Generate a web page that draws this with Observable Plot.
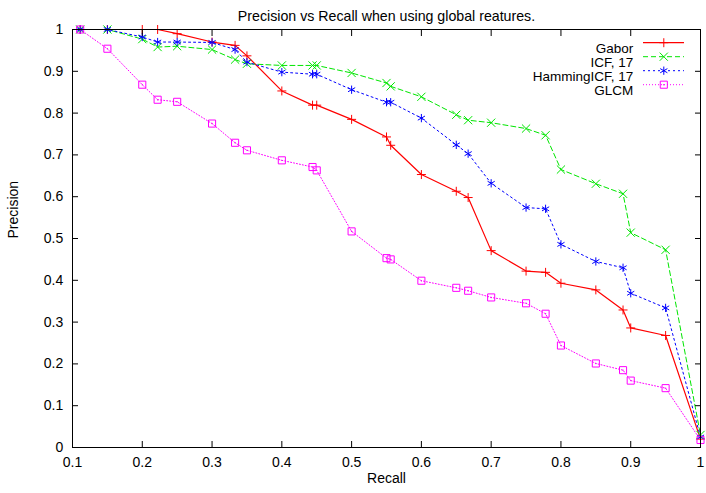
<!DOCTYPE html>
<html>
<head>
<meta charset="utf-8">
<script src="https://cdn.jsdelivr.net/npm/d3@7"></script>
<script src="https://cdn.jsdelivr.net/npm/@observablehq/plot@0.6"></script>
<style>
  html, body { margin: 0; padding: 0; background: #fff; overflow: hidden; }
  #chart svg { display: block; }
</style>
</head>
<body>
<div id="chart"></div>
<script>
// ---- data ----
const recall = [0.111, 0.15, 0.2, 0.222, 0.25, 0.3, 0.333, 0.35, 0.4, 0.444, 0.45, 0.5, 0.55, 0.556, 0.6, 0.65, 0.667, 0.7, 0.75, 0.778, 0.8, 0.85, 0.889, 0.9, 0.95, 1];
const gabor   = [1, 1, 1, 1, 0.99, 0.970, 0.962, 0.937, 0.853, 0.819, 0.819, 0.785, 0.743, 0.723, 0.653, 0.613, 0.598, 0.471, 0.422, 0.419, 0.393, 0.377, 0.329, 0.286, 0.268, 0.02];
const icf     = [1, 1, 0.977, 0.958, 0.960, 0.952, 0.928, 0.918, 0.914, 0.914, 0.914, 0.896, 0.872, 0.864, 0.839, 0.796, 0.783, 0.777, 0.763, 0.747, 0.665, 0.631, 0.607, 0.514, 0.473, 0.03];
const hamming = [1, 1, 0.982, 0.970, 0.970, 0.969, 0.952, 0.922, 0.898, 0.893, 0.893, 0.856, 0.826, 0.826, 0.788, 0.724, 0.703, 0.632, 0.574, 0.571, 0.486, 0.445, 0.430, 0.369, 0.334, 0.025];
const glcm    = [1, 0.954, 0.868, 0.832, 0.827, 0.775, 0.729, 0.711, 0.687, 0.671, 0.663, 0.517, 0.453, 0.450, 0.399, 0.382, 0.375, 0.359, 0.345, 0.320, 0.244, 0.201, 0.185, 0.160, 0.142, 0.018];

const seriesNames = ["Gabor", "ICF, 17", "HammingICF, 17", "GLCM"];
const xTicks = [0.1, 0.2, 0.3, 0.4, 0.5, 0.6, 0.7, 0.8, 0.9, 1];
const xTickLabels = ["0.1", "0.2", "0.3", "0.4", "0.5", "0.6", "0.7", "0.8", "0.9", "1"];
const yTicks = [0, 0.1, 0.2, 0.3, 0.4, 0.5, 0.6, 0.7, 0.8, 0.9, 1];
const yTickLabels = ["0", "0.1", "0.2", "0.3", "0.4", "0.5", "0.6", "0.7", "0.8", "0.9", "1"];
const title = "Precision vs Recall when using global reatures.";
const xLabel = "Recall";
const yLabel = "Precision";

// ---- styling ----
const styles = [
  {color: "#ff0000", dash: null,  symbol: "plus",     r: 3.0, w: 1.2},
  {color: "#00e600", dash: "5,3", symbol: "times",    r: 3.8, w: 1},
  {color: "#0000ff", dash: "2,3", symbol: "asterisk", r: 3.9, w: 1},
  {color: "#ff00ff", dash: "1,2", symbol: "square",   r: 4.0, w: 1}
];
const values = [gabor, icf, hamming, glcm];

const lab = (ticks, labels) => d => labels[ticks.findIndex(t => Math.abs(t - d) < 1e-9)];

const marks = [];
values.forEach((vals, i) => {
  const rows = recall.map((x, j) => ({x, y: vals[j]}));
  const s = styles[i];
  marks.push(Plot.line(rows, {x: "x", y: "y", stroke: s.color, strokeWidth: s.w, strokeDasharray: s.dash}));
  marks.push(Plot.dot(rows, {x: "x", y: "y", symbol: s.symbol, r: s.r, stroke: s.color, strokeWidth: 1, fill: "none"}));
  if (s.symbol === "square") marks.push(Plot.dot(rows, {x: "x", y: "y", r: 0.7, fill: s.color, stroke: "none"}));
});

// legend (top-right, inside the frame)
seriesNames.forEach((name, i) => {
  const s = styles[i];
  const rowDy = 13.7 + i * 14;
  marks.push(Plot.text([name], {text: d => d, frameAnchor: "top-right", dx: -67.3, dy: rowDy, textAnchor: "end", fill: "black", fontSize: 13.5}));
  marks.push(Plot.ruleY([yTicks[yTicks.length - 1]], {y: d => d, insetLeft: 571, insetRight: 16, dy: rowDy - 0.5, stroke: s.color, strokeWidth: s.w, strokeDasharray: s.dash}));
  marks.push(Plot.dot([name], {frameAnchor: "top-right", dx: -36.7, dy: rowDy - 0.5, symbol: s.symbol, r: s.r, stroke: s.color, fill: "none", strokeWidth: 1}));
  if (s.symbol === "square") marks.push(Plot.dot([name], {frameAnchor: "top-right", dx: -36.7, dy: rowDy - 0.5, r: 0.7, fill: s.color, stroke: "none"}));
});

const chart = Plot.plot({
  width: 706,
  height: 493,
  marginLeft: 72,
  marginRight: 6,
  marginTop: 29,
  marginBottom: 46,
  style: {fontFamily: "'Liberation Sans', Arial, sans-serif", fontSize: "14px", background: "white", color: "black"},
  x: {domain: [0.1, 1]},
  y: {domain: [0, 1]},
  marks: [
    ...marks,
    Plot.frame({stroke: "black", strokeWidth: 1}),
    Plot.axisX(xTicks, {anchor: "bottom", tickSize: -6, tickPadding: 15.5, tickFormat: lab(xTicks, xTickLabels), label: null, fontSize: 14}),
    Plot.axisX(xTicks, {anchor: "top", tickSize: -6, fill: "none", label: null}),
    Plot.axisY(yTicks, {anchor: "left", tickSize: -6, tickPadding: 15.3, tickFormat: lab(yTicks, yTickLabels), label: null, fontSize: 14}),
    Plot.axisY(yTicks, {anchor: "right", tickSize: -6, fill: "none", label: null}),
    Plot.text([title], {text: d => d, frameAnchor: "top", dy: -18.8, fill: "black", fontSize: 14.2}),
    Plot.text([xLabel], {text: d => d, frameAnchor: "bottom", dy: 35.5, fill: "black"}),
    Plot.text([yLabel], {text: d => d, frameAnchor: "left", dx: -59, rotate: -90, fill: "black"})
  ]
});
document.getElementById("chart").appendChild(chart);
</script>
</body>
</html>
